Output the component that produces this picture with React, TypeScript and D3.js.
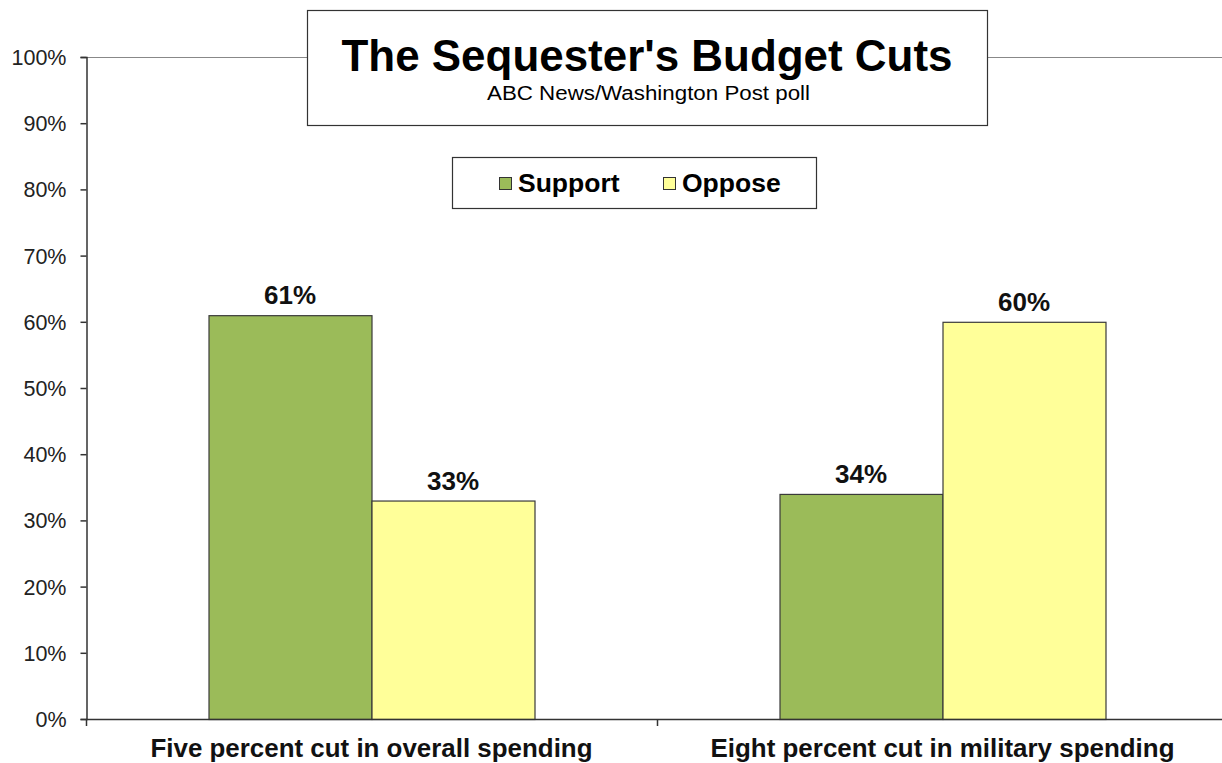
import React, { useEffect, useRef } from "react";
import * as d3 from "d3";

const categories = ["Five percent cut in overall spending", "Eight percent cut in military spending"];
const seriesNames = ["Support", "Oppose"];
const supportValues = [61, 34];
const opposeValues = [33, 60];
const yTicks = [0, 10, 20, 30, 40, 50, 60, 70, 80, 90, 100];
const colors = ["#9BBB59", "#FFFF99"];
const titleText = "The Sequester's Budget Cuts";
const subtitleText = "ABC News/Washington Post poll";

export default function App() {
  const ref = useRef<SVGSVGElement>(null);
  useEffect(() => {
    const svg = d3.select(ref.current);
    svg.selectAll("*").remove();
    const W = 1222, H = 763;
    const left = 86, right = 1228, top = 57, bottom = 719;
    const font = "'Liberation Sans', Arial, sans-serif";

    const x0 = d3.scaleBand().domain(categories).range([left, right]).paddingInner(0).paddingOuter(0);
    const x1 = d3.scaleBand().domain(seriesNames).range([0, 326]);
    const y = d3.scaleLinear().domain([0, 100]).range([bottom, top]);

    svg.append("rect").attr("width", W).attr("height", H).attr("fill", "#fff");

    // top border of plot
    svg.append("line").attr("x1", left).attr("x2", W).attr("y1", y(100) + 0.5).attr("y2", y(100) + 0.5)
      .attr("stroke", "#888").attr("stroke-width", 1);

    // y axis
    const yAxis = d3.axisLeft(y).tickValues(yTicks).tickSize(6).tickFormat((d) => `${d}%`);
    const gy = svg.append("g").attr("transform", `translate(${left + 0.5},0)`).call(yAxis);
    gy.select(".domain").attr("stroke", "#333").attr("stroke-width", 1.5);
    gy.selectAll(".tick line").attr("stroke", "#333").attr("stroke-width", 1.5);
    gy.selectAll(".tick text").attr("font-family", font).attr("font-size", 21.5).attr("fill", "#222")
      .attr("x", -20).attr("dy", "0.35em");

    // bars
    const data = categories.map((c, i) => ({ c, vals: [supportValues[i], opposeValues[i]] }));
    const g = svg.append("g");
    data.forEach((d) => {
      const cx = x0(d.c)! + x0.bandwidth() / 2 - 163;
      d.vals.forEach((v, j) => {
        const bx = cx + x1(seriesNames[j])!;
        g.append("rect").attr("x", bx + 0.5).attr("y", y(v) + 0.5)
          .attr("width", x1.bandwidth()).attr("height", y(0) - y(v))
          .attr("fill", colors[j]).attr("stroke", "#3a3a3a").attr("stroke-width", 1.2);
        g.append("text").attr("x", bx + x1.bandwidth() / 2).attr("y", y(v) - 11)
          .attr("text-anchor", "middle").attr("font-family", font).attr("font-weight", "bold")
          .attr("font-size", 26).attr("fill", "#111").text(`${v}%`);
      });
    });

    // x axis
    svg.append("line").attr("x1", left).attr("x2", W).attr("y1", bottom + 0.5).attr("y2", bottom + 0.5)
      .attr("stroke", "#333").attr("stroke-width", 1.5);
    [left, x0(categories[1])!].forEach((tx) => {
      svg.append("line").attr("x1", tx + 0.5).attr("x2", tx + 0.5).attr("y1", bottom).attr("y2", bottom + 7)
        .attr("stroke", "#333").attr("stroke-width", 1.5);
    });
    const catWidths = [442, 464];
    categories.forEach((c, i) => {
      svg.append("text").attr("x", x0(c)! + x0.bandwidth() / 2).attr("y", 757)
        .attr("text-anchor", "middle").attr("font-family", font).attr("font-weight", "bold")
        .attr("font-size", 26).attr("fill", "#111")
        .attr("textLength", catWidths[i]).attr("lengthAdjust", "spacingAndGlyphs").text(c);
    });

    // title box
    svg.append("rect").attr("x", 307.5).attr("y", 10.5).attr("width", 680).attr("height", 115)
      .attr("fill", "#fff").attr("stroke", "#333").attr("stroke-width", 1.2);
    svg.append("text").attr("x", 647).attr("y", 71).attr("text-anchor", "middle")
      .attr("font-family", font).attr("font-weight", "bold").attr("font-size", 44).attr("fill", "#000")
      .attr("textLength", 611).attr("lengthAdjust", "spacingAndGlyphs")
      .text(titleText);
    svg.append("text").attr("x", 648.5).attr("y", 100).attr("text-anchor", "middle")
      .attr("font-family", font).attr("font-size", 20).attr("fill", "#000")
      .attr("textLength", 323).attr("lengthAdjust", "spacingAndGlyphs")
      .text(subtitleText);

    // legend
    svg.append("rect").attr("x", 452.5).attr("y", 157.5).attr("width", 364).attr("height", 51)
      .attr("fill", "#fff").attr("stroke", "#333").attr("stroke-width", 1.2);
    const legendX = [499, 663];
    seriesNames.forEach((s, j) => {
      svg.append("rect").attr("x", legendX[j] + 0.5).attr("y", 177.5).attr("width", 12).attr("height", 12)
        .attr("fill", colors[j]).attr("stroke", "#333").attr("stroke-width", 1);
      svg.append("text").attr("x", legendX[j] + 19).attr("y", 192)
        .attr("font-family", font).attr("font-weight", "bold").attr("font-size", 26.5).attr("fill", "#000")
        .text(s);
    });
  }, []);
  return (
    <svg ref={ref} width={1222} height={763} style={{ position: "absolute", left: 0, top: 0 }} />
  );
}
